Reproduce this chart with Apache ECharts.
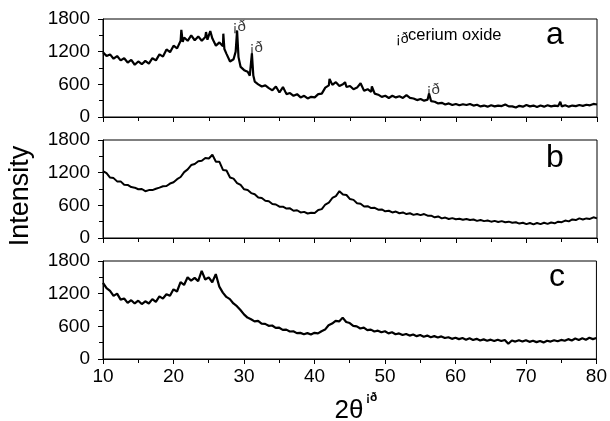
<!DOCTYPE html>
<html>
<head>
<meta charset="utf-8">
<script src="https://cdn.jsdelivr.net/npm/echarts@6/dist/echarts.min.js"></script>
<style>html,body{margin:0;padding:0;background:#fff}#c{width:610px;height:421px}</style>
</head>
<body>
<div id="c"></div>
<script>
// ---- data ----
var angleA = [10,10.5,11,11.5,12,12.5,13,13.5,14,14.5,15,15.5,16,16.5,17,17.5,18,18.5,19,19.5,20,20.5,21,21.1,21.3,21.5,22,22.5,23,23.5,24,24.5,24.6,24.8,25,25.2,25.5,26,26.5,27,27.05,27.2,27.5,28,28.5,28.8,29,29.2,29.5,30,30.5,30.8,31.1,31.3,31.5,32,32.5,33,33.5,34,34.5,35,35.5,36,36.5,37,37.5,38,38.5,39,39.5,40,40.5,41,41.5,42,42.1,42.5,43,43.5,44,44.3,44.5,45,45.5,46,46.5,47,47.5,48,48.1,48.5,49,49.5,50,50.5,51,51.5,52,52.5,53,53.5,54,54.5,55,55.5,56,56.2,56.5,57,57.5,58,58.5,59,59.5,60,60.5,61,61.5,62,62.5,63,63.5,64,64.5,65,65.5,66,66.5,67,67.5,68,68.5,69,69.5,70,70.5,71,71.5,72,72.5,73,73.5,74,74.5,74.8,75,75.5,76,76.5,77,77.5,78,78.5,79,79.5,80];
var intensityA = [1190,1120,1150,1070,1120,1040,1080,1000,1050,960,1020,970,1030,980,1080,1040,1150,1110,1240,1190,1310,1260,1400,1600,1380,1460,1400,1500,1410,1480,1400,1470,1560,1420,1450,1580,1440,1310,1370,1300,1530,1250,1160,1020,1060,1200,1590,1100,920,860,830,760,1170,760,650,600,560,580,530,490,560,450,550,420,440,390,420,360,390,340,370,360,420,430,540,580,700,590,640,570,600,640,550,570,510,540,620,480,510,460,560,430,410,370,390,350,390,360,380,350,400,350,340,310,330,300,320,430,290,280,250,260,230,250,220,240,215,235,220,240,210,225,195,210,190,215,195,210,200,230,195,195,175,205,190,220,195,210,185,210,190,215,195,210,200,280,195,215,190,210,200,220,205,225,215,240,230];

var angleGrid = [10,10.5,11,11.5,12,12.5,13,13.5,14,14.5,15,15.5,16,16.5,17,17.5,18,18.5,19,19.5,20,20.5,21,21.5,22,22.5,23,23.5,24,24.5,25,25.5,26,26.5,27,27.5,28,28.5,29,29.5,30,30.5,31,31.5,32,32.5,33,33.5,34,34.5,35,35.5,36,36.5,37,37.5,38,38.5,39,39.5,40,40.5,41,41.5,42,42.5,43,43.5,44,44.5,45,45.5,46,46.5,47,47.5,48,48.5,49,49.5,50,50.5,51,51.5,52,52.5,53,53.5,54,54.5,55,55.5,56,56.5,57,57.5,58,58.5,59,59.5,60,60.5,61,61.5,62,62.5,63,63.5,64,64.5,65,65.5,66,66.5,67,67.5,68,68.5,69,69.5,70,70.5,71,71.5,72,72.5,73,73.5,74,74.5,75,75.5,76,76.5,77,77.5,78,78.5,79,79.5,80];

var intensityB = [1230,1190,1110,1100,1040,1040,980,975,935,925,895,900,860,880,880,905,925,950,955,1000,1025,1080,1120,1210,1260,1340,1360,1410,1420,1470,1460,1530,1400,1400,1250,1240,1110,1090,1010,975,895,880,825,805,745,735,685,675,625,615,575,575,540,545,500,510,470,480,450,465,460,515,530,615,650,735,770,860,800,790,715,700,640,630,580,585,550,555,520,525,490,500,470,485,455,470,440,455,425,440,420,440,410,410,380,395,360,375,350,365,345,355,335,350,330,340,315,330,310,320,300,315,295,310,290,300,280,290,265,280,255,275,250,275,255,280,260,285,270,300,290,320,305,340,330,360,340,360,350,380,360];

var intensityC = [1400,1300,1250,1160,1200,1090,1110,1030,1080,1020,1070,1010,1060,1020,1100,1050,1150,1110,1190,1160,1280,1240,1410,1360,1500,1440,1490,1430,1620,1460,1500,1410,1560,1330,1220,1140,1100,1020,970,900,820,760,730,690,700,650,645,610,615,570,575,535,540,505,510,475,480,455,475,450,480,470,510,540,620,650,700,690,760,680,660,610,600,560,575,530,540,505,520,490,510,470,490,455,470,440,460,430,450,420,440,410,430,400,420,395,415,385,400,370,390,365,385,355,380,350,370,340,360,335,355,330,355,330,350,280,340,320,345,320,345,315,335,310,330,305,335,320,345,325,350,335,365,340,375,350,380,355,390,365,385];

var markerAngles = [29.3, 31.7, 56.8];
var markerIntensity = [1650, 1265, 490];
var markerText = '¡ð';
var panelLetters = ['a', 'b', 'c'];
var xTicks = {min: 10, max: 80, interval: 10};
var yTicks = {min: 0, max: 1800, interval: 600};
var yTitle = 'Intensity';
var xTitle = '2θ';
var xTitleSup = '¡ð';
var legendText = 'cerium oxide';

// ---- chart ----
var FONT = '"Liberation Sans", Arial, Helvetica, sans-serif';
function pairs(xs, ys) { return xs.map(function (x, i) { return [x, ys[i]]; }); }

var tops = [19, 140, 261];
var grids = tops.map(function (t) {
  return {left: 103, right: 13, top: t, height: 98, show: true, borderColor: '#000', borderWidth: 1, backgroundColor: 'transparent'};
});
var xAxes = tops.map(function (t, i) {
  return {
    type: 'value', gridIndex: i, min: xTicks.min, max: xTicks.max, interval: xTicks.interval,
    axisLine: {onZero: false, lineStyle: {color: '#000', width: 1}},
    axisTick: {show: true, inside: false, length: 5, lineStyle: {color: '#000'}},
    minorTick: {show: true, splitNumber: 2, length: 4, lineStyle: {color: '#000'}},
    splitLine: {show: false},
    axisLabel: {show: i === 2, fontSize: 19, color: '#000', fontFamily: FONT, margin: 8,
      formatter: function (v) { return String(v); }}
  };
});
var yAxes = tops.map(function (t, i) {
  return {
    type: 'value', gridIndex: i, min: yTicks.min, max: yTicks.max, interval: yTicks.interval,
    axisLine: {show: true, lineStyle: {color: '#000', width: 1}},
    axisTick: {show: true, inside: false, length: 5, lineStyle: {color: '#000'}},
    minorTick: {show: true, splitNumber: 2, length: 4, lineStyle: {color: '#000'}},
    splitLine: {show: false},
    axisLabel: {fontSize: 19, color: '#000', fontFamily: FONT, margin: 13,
      formatter: function (v) { return String(v); }}
  };
});

function lineSeries(i, data, w) {
  return {type: 'line', xAxisIndex: i, yAxisIndex: i, data: data, showSymbol: false, symbol: 'none',
    lineStyle: {color: '#000', width: w}, silent: true, animation: false};
}

var series = [
  lineSeries(0, pairs(angleA, intensityA), 2.2),
  lineSeries(1, pairs(angleGrid, intensityB), 2),
  lineSeries(2, pairs(angleGrid, intensityC), 2.2),
  {type: 'scatter', xAxisIndex: 0, yAxisIndex: 0, data: pairs(markerAngles, markerIntensity),
    symbol: 'circle', symbolSize: 1, itemStyle: {color: 'rgba(0,0,0,0)'}, silent: true, animation: false, z: 5,
    label: {show: true, position: 'inside', formatter: markerText, fontSize: 15, color: '#000', fontFamily: FONT}}
];

var letterPos = [[555, 35], [555, 158], [557, 277]];
var graphics = panelLetters.map(function (l, i) {
  return {type: 'text', x: letterPos[i][0], y: letterPos[i][1],
    style: {text: l, font: '32px ' + FONT, fill: '#000', textAlign: 'center', textVerticalAlign: 'middle'}};
});
graphics.push({type: 'text', x: 21, y: 196, rotation: Math.PI / 2,
  style: {text: yTitle, font: '27px ' + FONT, fill: '#000', textAlign: 'center', textVerticalAlign: 'middle'}});
graphics.push({type: 'text', x: 349, y: 411,
  style: {text: xTitle, font: '26px ' + FONT, fill: '#000', textAlign: 'center', textVerticalAlign: 'middle'}});
graphics.push({type: 'text', x: 366, y: 398,
  style: {text: xTitleSup, font: 'bold 12px ' + FONT, fill: '#000', textAlign: 'left', textVerticalAlign: 'middle'}});
graphics.push({type: 'text', x: 396, y: 39,
  style: {text: markerText, font: '14px ' + FONT, fill: '#000', textAlign: 'left', textVerticalAlign: 'middle'}});
graphics.push({type: 'text', x: 408, y: 35,
  style: {text: legendText, font: '16.5px ' + FONT, fill: '#000', textAlign: 'left', textVerticalAlign: 'middle'}});

var chart = echarts.init(document.getElementById('c'), null, {renderer: 'canvas'});
chart.setOption({
  animation: false,
  backgroundColor: '#fff',
  grid: grids, xAxis: xAxes, yAxis: yAxes, series: series, graphic: graphics
});
</script>
</body>
</html>
